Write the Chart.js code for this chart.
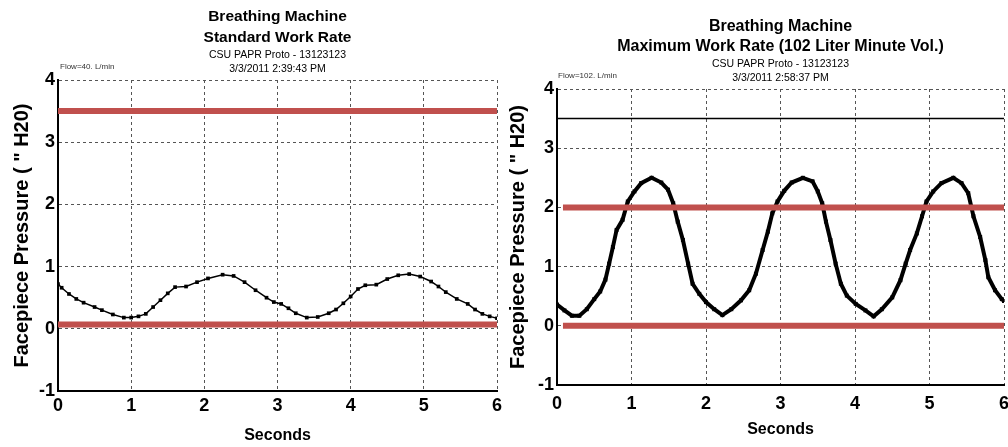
<!DOCTYPE html>
<html>
<head>
<meta charset="utf-8">
<title>Breathing Machine</title>
<script src="https://cdn.jsdelivr.net/npm/chart.js@4/dist/chart.umd.min.js"></script>
<style>
  html, body { margin: 0; padding: 0; background: #fff; }
  .row { display: flex; width: 1008px; height: 447px; }
  canvas { display: block; }
</style>
</head>
<body>
<div class="row">
  <canvas id="standard" width="504" height="447"></canvas>
  <canvas id="maximum" width="504" height="447"></canvas>
</div>
<script>
// standard work rate run (40 L/min)
const stdSeconds = [0.0, 0.05, 0.15, 0.25, 0.35, 0.5, 0.6, 0.75, 0.9, 1.0, 1.1, 1.2, 1.3, 1.4, 1.5, 1.6, 1.75, 1.9, 2.05, 2.25,
  2.4, 2.55, 2.7, 2.85, 2.95, 3.05, 3.15, 3.25, 3.4, 3.55, 3.7, 3.8, 3.9, 4.0, 4.1, 4.2, 4.35, 4.5, 4.65, 4.8,
  4.95, 5.1, 5.2, 5.3, 5.45, 5.6, 5.7, 5.8, 5.9, 6.0];
const stdPressure = [0.72, 0.66, 0.56, 0.48, 0.42, 0.35, 0.30, 0.23, 0.18, 0.18, 0.20, 0.24, 0.35, 0.46, 0.57, 0.67, 0.68, 0.75, 0.81, 0.87,
  0.85, 0.75, 0.62, 0.50, 0.43, 0.40, 0.33, 0.25, 0.18, 0.19, 0.25, 0.31, 0.41, 0.52, 0.64, 0.70, 0.71, 0.80, 0.86, 0.88,
  0.84, 0.76, 0.68, 0.59, 0.48, 0.40, 0.31, 0.24, 0.20, 0.17];

// maximum work rate run (102 L/min)
const maxSeconds = [0.0, 0.1, 0.2, 0.3, 0.4, 0.5, 0.58, 0.65, 0.7, 0.75, 0.8, 0.88, 0.95, 1.04, 1.13, 1.27, 1.40, 1.49, 1.56, 1.62,
  1.69, 1.76, 1.82, 1.91, 2.0, 2.11, 2.22, 2.34, 2.47, 2.58, 2.67, 2.76, 2.83, 2.89, 2.96, 3.05, 3.15, 3.3, 3.43, 3.5,
  3.56, 3.61, 3.67, 3.74, 3.81, 3.89, 4.01, 4.14, 4.25, 4.36, 4.5, 4.61, 4.68, 4.74, 4.83, 4.9, 4.96, 5.05, 5.16, 5.32,
  5.43, 5.52, 5.59, 5.68, 5.75, 5.79, 5.88, 5.97, 6.0];
const maxPressure = [0.36, 0.26, 0.17, 0.17, 0.28, 0.45, 0.58, 0.78, 1.05, 1.33, 1.62, 1.79, 2.10, 2.27, 2.41, 2.50, 2.42, 2.30, 2.07, 1.76,
  1.45, 1.05, 0.71, 0.54, 0.40, 0.28, 0.18, 0.28, 0.43, 0.60, 0.88, 1.28, 1.59, 1.90, 2.10, 2.28, 2.42, 2.50, 2.44, 2.27,
  2.07, 1.76, 1.45, 1.05, 0.71, 0.51, 0.37, 0.26, 0.16, 0.28, 0.48, 0.77, 1.05, 1.28, 1.56, 1.85, 2.10, 2.27, 2.41, 2.50,
  2.41, 2.24, 1.85, 1.50, 1.11, 0.82, 0.60, 0.45, 0.42];

// limit lines: [level, start second, end second]
const stdLimits = [[3.5, 0, 6], [0.07, 0, 6]];
const maxLimits = [[2.0, 0.08, 6], [0.0, 0.08, 6]];
const maxCeiling = [3.5, 0, 6];

const RED = '#c0504d';
const SANS = "'Liberation Sans', Arial, sans-serif";
const NARROW = "'Liberation Sans Narrow', 'Liberation Sans', Arial, sans-serif";

Chart.defaults.font.family = SANS;
Chart.defaults.color = '#000';

function toPoints(xs, ys) {
  return xs.map((x, i) => ({ x: x, y: ys[i] }));
}

function limitLine(limit, color, width) {
  return {
    data: [{ x: limit[1], y: limit[0] }, { x: limit[2], y: limit[0] }],
    showLine: true,
    borderColor: color,
    borderWidth: width,
    borderCapStyle: 'butt',
    pointRadius: 0
  };
}

// small "Flow=..." note above the top-left corner of the plot
const flowNote = {
  id: 'flowNote',
  afterDraw(chart, args, opts) {
    const { ctx, chartArea } = chart;
    ctx.save();
    ctx.font = '8px ' + SANS;
    ctx.fillStyle = '#333';
    ctx.textBaseline = 'middle';
    ctx.fillText(opts.text, chartArea.left + opts.dx, chartArea.top - 13);
    ctx.restore();
  }
};

function buildChart(id, cfg) {
  return new Chart(document.getElementById(id), {
    type: 'scatter',
    data: { datasets: cfg.datasets },
    plugins: [flowNote],
    options: {
      responsive: false,
      animation: false,
      layout: { padding: { left: 0, right: cfg.padRight, top: 0, bottom: 0 } },
      plugins: {
        legend: { display: false },
        tooltip: { enabled: false },
        flowNote: { text: cfg.flow, dx: cfg.flowDx },
        title: {
          display: true,
          fullSize: false,
          text: cfg.title,
          color: '#000',
          font: { size: cfg.titleSize, weight: 'bold', lineHeight: cfg.titleLine },
          padding: { top: cfg.titleTop, bottom: 0 }
        },
        subtitle: {
          display: true,
          fullSize: false,
          text: cfg.subtitle,
          color: '#000',
          font: { size: 10.5, lineHeight: '14px' },
          padding: { top: 0, bottom: 4 }
        }
      },
      scales: {
        x: {
          type: 'linear',
          min: 0,
          max: 6,
          ticks: { stepSize: 1, padding: cfg.xTickPad, maxRotation: 0, font: { family: NARROW, size: 18, weight: 'bold' } },
          grid: { color: '#555', lineWidth: 1, drawTicks: false },
          border: { display: true, color: '#000', width: 2, dash: [3, 3] },
          title: { display: true, text: 'Seconds', font: { size: 16, weight: 'bold' }, padding: { top: 0, bottom: cfg.xTitlePad } },
          afterFit(scale) {
            scale.height = cfg.xHeight;
            scale.paddingLeft = 0;
            scale.paddingRight = 0;
          }
        },
        y: {
          min: -1,
          max: 4,
          ticks: { stepSize: 1, padding: 3, font: { family: NARROW, size: 18, weight: 'bold' } },
          grid: { color: '#555', lineWidth: 1, drawTicks: false },
          border: { display: true, color: '#000', width: 2, dash: [3, 3] },
          title: { display: true, text: 'Facepiece Pressure ( " H20)', font: { size: 20, weight: 'bold' }, padding: { top: cfg.yTitlePad, bottom: 0 } },
          afterFit(scale) {
            scale.width = cfg.yWidth;
          }
        }
      }
    }
  });
}

buildChart('standard', {
  title: ['Breathing Machine', 'Standard Work Rate'],
  subtitle: ['CSU PAPR Proto - 13123123', '3/3/2011 2:39:43 PM'],
  flow: 'Flow=40. L/min',
  flowDx: 2,
  titleSize: 15.5,
  titleLine: '21px',
  titleTop: 6,
  padRight: 7,
  yWidth: 58,
  xHeight: 56,
  xTickPad: 4,
  xTitlePad: 2,
  yTitlePad: 10,
  datasets: [
    limitLine(stdLimits[0], RED, 6),
    limitLine(stdLimits[1], RED, 6),
    {
      data: toPoints(stdSeconds, stdPressure),
      showLine: true,
      borderColor: '#000',
      borderWidth: 1.5,
      backgroundColor: '#000',
      pointStyle: 'rect',
      pointRadius: 2.6,
      pointBorderWidth: 0
    }
  ]
});

buildChart('maximum', {
  title: ['Breathing Machine', 'Maximum Work Rate (102 Liter Minute Vol.)'],
  subtitle: ['CSU PAPR Proto - 13123123', '3/3/2011 2:58:37 PM'],
  flow: 'Flow=102. L/min',
  flowDx: 1,
  titleSize: 16,
  titleLine: '20px',
  titleTop: 17,
  padRight: 2,
  yWidth: 53,
  xHeight: 62,
  xTickPad: 8,
  xTitlePad: 8,
  yTitlePad: 2,
  datasets: [
    limitLine(maxLimits[0], RED, 6),
    limitLine(maxLimits[1], RED, 6),
    limitLine(maxCeiling, '#000', 1.5),
    {
      data: toPoints(maxSeconds, maxPressure),
      showLine: true,
      borderColor: '#000',
      borderWidth: 4,
      backgroundColor: '#000',
      pointStyle: 'rect',
      pointRadius: 2.8,
      pointBorderWidth: 0
    }
  ]
});
</script>
</body>
</html>
